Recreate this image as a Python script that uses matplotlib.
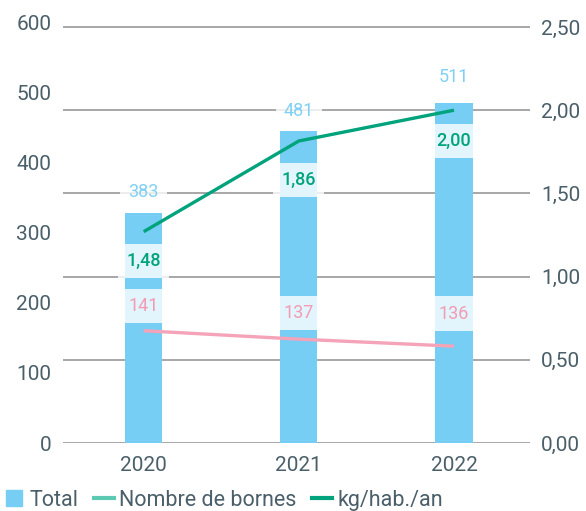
import matplotlib
matplotlib.use("Agg")
import matplotlib.pyplot as plt
from matplotlib.lines import Line2D
from matplotlib.transforms import blended_transform_factory

# data
years = ["2020", "2021", "2022"]
total_bars = [328, 444, 484]          # bar heights (left axis)
total_labels = ["383", "481", "511"]
bornes_line = [160, 148, 138]         # pink line (left axis)
bornes_labels = ["141", "137", "136"]
kg_line = [1.27, 1.815, 2.00]         # green line (right axis)
kg_labels = ["1,48", "1,86", "2,00"]

left_ticks = [0, 100, 200, 300, 400, 500, 600]
right_ticks = [0, 0.5, 1.0, 1.5, 2.0, 2.5]
right_ticklabels = ["0,00", "0,50", "1,00", "1,50", "2,00", "2,50"]

# colours
blue = "#76CEF4"
pink = "#F4A3B8"
pink_txt = "#F29BB3"
green = "#00A37B"
teal = "#5DC9B2"
text_col = "#4A5F69"
grid_col = "#A0A0A0"

plt.rcParams["font.family"] = ["Roboto", "DejaVu Sans"]

fig = plt.figure(figsize=(5.86, 5.11), dpi=100)
ax = fig.add_axes([63 / 586, 68 / 511, 467 / 586, 421 / 511])
ax2 = ax.twinx()

x = list(range(len(years)))

ax.set_xlim(-0.52, 2.49)
ax.set_ylim(0, 600)
ax2.set_ylim(0, 2.5 * 421 / 416)

# gridlines follow the right axis, drawn under the bars
gtrans = blended_transform_factory(ax.transAxes, ax2.transData)
for v in right_ticks:
    ax.plot([0, 1], [v, v], color=grid_col, lw=1.3, transform=gtrans, zorder=0.5)

ax.bar(x, total_bars, width=0.24, color=blue, zorder=2)
ax.plot(x, bornes_line, color=pink, lw=2.4, solid_capstyle="butt", zorder=3)
ax2.plot(x, kg_line, color=green, lw=2.4, solid_capstyle="butt", zorder=3)

box = dict(boxstyle="square,pad=0.45", fc="white", ec="none", alpha=0.8)

# label offsets from their anchor point, in points
total_dy = [15, 15, 19]
bornes_dy = [18, 19, 23.5]
kg_dy = [-21, -28, -22]

for i in x:
    ax.annotate(total_labels[i], (i, total_bars[i]), xytext=(0, total_dy[i]), textcoords="offset points",
                ha="center", va="center", fontsize=13, color="#7FD0F3", bbox=box, zorder=5)
    ax.annotate(bornes_labels[i], (i, bornes_line[i]), xytext=(0, bornes_dy[i]),
                textcoords="offset points", ha="center", va="center", fontsize=13,
                color=pink_txt, bbox=box, zorder=5)
    ax2.annotate(kg_labels[i], (i, kg_line[i]), xytext=(0, kg_dy[i]),
                 textcoords="offset points", ha="center", va="center", fontsize=13,
                 color=green, fontweight="medium", bbox=box, zorder=5)

ax.set_xticks(x)
ax.set_xticklabels(years)
ax.set_yticks(left_ticks)
ax2.set_yticks(right_ticks)
ax2.set_yticklabels(right_ticklabels)

ax.tick_params(axis="x", length=0, pad=9, labelsize=15, labelcolor=text_col)
ax.tick_params(axis="y", length=0, pad=8.5, labelsize=15, labelcolor=text_col)
ax2.tick_params(axis="y", length=0, pad=8, labelsize=15, labelcolor=text_col)

for a in (ax, ax2):
    for s in a.spines.values():
        s.set_visible(False)

handles = [
    Line2D([], [], marker="s", linestyle="none", markersize=11.5, color=blue),
    Line2D([], [], color=teal, lw=3),
    Line2D([], [], color=green, lw=3),
]
fig.legend(handles, ["Total", "Nombre de bornes", "kg/hab./an"], loc="center left",
           bbox_to_anchor=(0.0, 11 / 511), ncol=3, frameon=False, fontsize=15.5,
           handlelength=0.9, handletextpad=0.25, columnspacing=0.75, labelcolor=text_col,
           borderaxespad=0, borderpad=0.2)

fig.savefig("out.png", dpi=100)
